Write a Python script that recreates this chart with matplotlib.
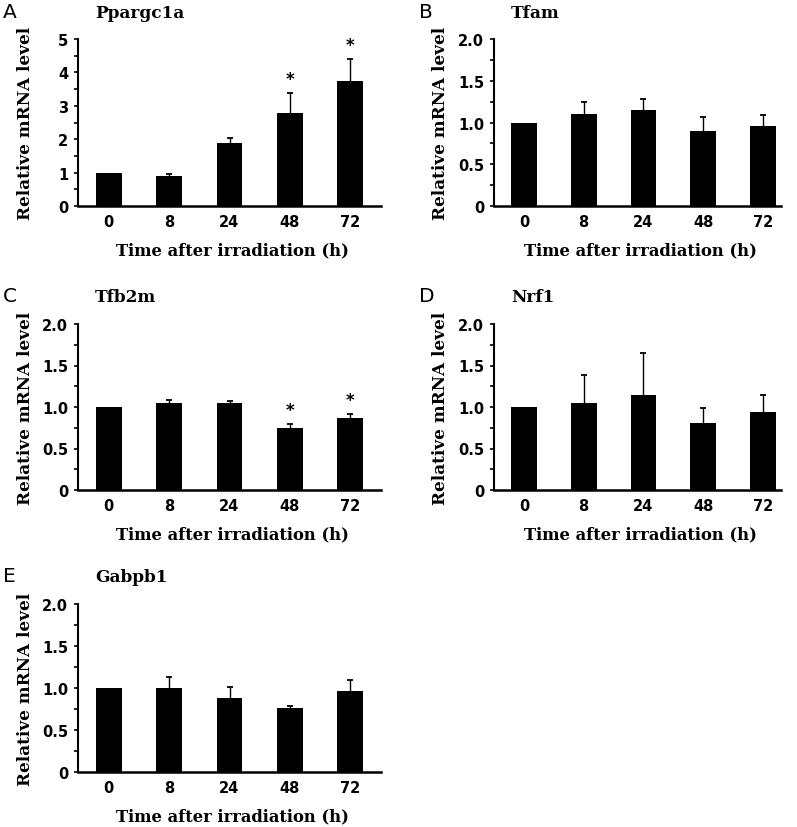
import matplotlib
matplotlib.use("Agg")
import matplotlib.pyplot as plt
import numpy as np
from matplotlib.ticker import MultipleLocator

times = ["0", "8", "24", "48", "72"]

ppargc1a = [1.0, 0.91, 1.90, 2.78, 3.74]
ppargc1a_err = [0.0, 0.06, 0.15, 0.60, 0.67]
ppargc1a_star = [False, False, False, True, True]

tfam = [1.0, 1.10, 1.155, 0.90, 0.96]
tfam_err = [0.0, 0.14, 0.125, 0.17, 0.125]
tfam_star = [False] * 5

tfb2m = [1.0, 1.05, 1.044, 0.743, 0.863]
tfb2m_err = [0.0, 0.04, 0.032, 0.047, 0.047]
tfb2m_star = [False, False, False, True, True]

nrf1 = [1.0, 1.05, 1.15, 0.81, 0.935]
nrf1_err = [0.0, 0.34, 0.495, 0.18, 0.215]
nrf1_star = [False] * 5

gabpb1 = [1.0, 1.0, 0.88, 0.765, 0.96]
gabpb1_err = [0.0, 0.13, 0.13, 0.025, 0.13]
gabpb1_star = [False] * 5

W, H = 797, 828
fig = plt.figure(figsize=(W / 100, H / 100), dpi=100)

serif = "DejaVu Serif"
sans = "DejaVu Sans"


def px_axes(x0, x1, y_top, y_bot):
    return fig.add_axes([x0 / W, 1 - y_bot / H, (x1 - x0) / W, (y_bot - y_top) / H])


panels = [
    # letter, title, vals, errs, stars, ymax, major, minor, fmt, pixel box, xlim
    ("A", "Ppargc1a", ppargc1a, ppargc1a_err, ppargc1a_star, 5, 1, 0.5, "int", (78, 381, 40, 207), -0.51, 4.51),
    ("B", "Tfam", tfam, tfam_err, tfam_star, 2.0, 0.5, 0.25, "dec", (494, 781, 40, 207), -0.5, 4.3),
    ("C", "Tfb2m", tfb2m, tfb2m_err, tfb2m_star, 2.0, 0.5, 0.25, "dec", (78, 381, 325, 491), -0.51, 4.51),
    ("D", "Nrf1", nrf1, nrf1_err, nrf1_star, 2.0, 0.5, 0.25, "dec", (494, 781, 325, 491), -0.5, 4.3),
    ("E", "Gabpb1", gabpb1, gabpb1_err, gabpb1_star, 2.0, 0.5, 0.25, "dec", (78, 381, 605, 773), -0.51, 4.51),
]

for letter, title, vals, errs, stars, ymax, major, minor, fmt, box, xl, xr in panels:
    x0, x1, yt, yb = box
    ax = px_axes(x0, x1, yt, yb)
    x = np.arange(len(times))
    v = np.array(vals)
    e = np.array(errs)
    ax.bar(x, v, width=0.43, color="black", zorder=2)
    # upper error bars only (stem + cap on top)
    idx = e > 0
    ax.errorbar(x[idx], v[idx], yerr=[np.zeros(idx.sum()), e[idx]],
                fmt="none", ecolor="black", elinewidth=1.0, capsize=0, zorder=3)
    ax.plot(x[idx], (v + e)[idx], ls="none", marker="_", ms=5, mew=1.3, color="black", zorder=3)
    for i, s in enumerate(stars):
        if s:
            ax.text(x[i], v[i] + e[i] + ymax * 0.03, "*", ha="center", va="bottom",
                    fontsize=12, fontweight="bold", fontfamily=sans)
    ax.set_xlim(xl, xr)
    ax.set_ylim(0, ymax)
    ax.set_xticks(x)
    ax.set_xticklabels(times)
    ax.yaxis.set_major_locator(MultipleLocator(major))
    ax.yaxis.set_minor_locator(MultipleLocator(minor))
    yt_vals = np.arange(0, ymax + 0.01, major)
    ax.set_yticks(yt_vals)
    if fmt == "int":
        ax.set_yticklabels([str(int(t)) for t in yt_vals])
    else:
        ax.set_yticklabels(["0" if t == 0 else f"{t:.1f}" for t in yt_vals])
    for lab in ax.get_xticklabels() + ax.get_yticklabels():
        lab.set_fontfamily(sans)
        lab.set_fontweight("bold")
        lab.set_fontsize(10.5)
    ax.tick_params(axis="x", length=0, pad=6)
    ax.tick_params(axis="y", which="both", direction="out", length=3, width=1.2, pad=4)
    for sp in ["top", "right"]:
        ax.spines[sp].set_visible(False)
    ax.spines["left"].set_linewidth(1.5)
    ax.spines["bottom"].set_linewidth(1.8)

    # labels
    fig.text((x0 - 53) / W, 1 - (yt + yb) / 2 / H, "Relative mRNA level", rotation=90,
             ha="center", va="center", fontsize=12.2, fontweight="bold", fontfamily=serif)
    fig.text((x0 + x1) / 2 / W + 3 / W, 1 - (yb + 44) / H, "Time after irradiation (h)",
             ha="center", va="center", fontsize=11.8, fontweight="bold", fontfamily=serif)
    fig.text((x0 + 17) / W, 1 - (yt - 27) / H, title, ha="left", va="center",
             fontsize=12.2, fontweight="bold", fontfamily=serif)
    fig.text((x0 - 75) / W, 1 - (yt - 28) / H, letter, ha="left", va="center",
             fontsize=14.5, fontfamily=sans)

fig.savefig("out.png", dpi=100)
